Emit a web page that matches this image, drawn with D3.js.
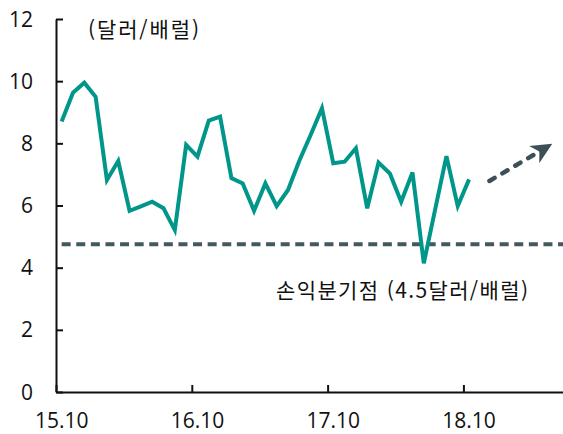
<!DOCTYPE html>
<html lang="ko">
<head>
<meta charset="utf-8">
<title>손익분기점 차트</title>
<script src="https://d3js.org/d3.v7.min.js"></script>
<style>
body { margin: 0; background: #fff; }
text { font-family: "Noto Sans CJK KR", "Noto Sans", sans-serif; fill: #111; }
text.num { font-family: "Open Sans", "Noto Sans", sans-serif; }
</style>
</head>
<body>
<div id="chart"></div>
<script>
// monthly values, 15.10 .. 18.10 (dollars / barrel)
var months = d3.range(0, 37);
var values = [8.70, 9.63, 9.95, 9.50, 6.82, 7.43, 5.83, 5.97, 6.12, 5.91,
              5.21, 7.95, 7.57, 8.73, 8.86, 6.88, 6.71, 5.83, 6.71, 5.98,
              6.50, 7.44, 8.27, 9.13, 7.36, 7.41, 7.84, 5.91, 7.38, 7.03,
              6.12, 7.06, 4.14, 5.87, 7.59, 5.98, 6.84];
var xTickMonths = [0, 12, 24, 36];
var xTickLabels = ["15.10", "16.10", "17.10", "18.10"];
var yTicks = [0, 2, 4, 6, 8, 10, 12];
var breakEven = 4.75;
var arrowPts = [[38.3, 6.79], [43.7, 7.95]];

var W = 563, H = 434;
var svg = d3.select("#chart").append("svg")
  .attr("width", W).attr("height", H);

var x = d3.scaleLinear().domain([0, 44.8]).range([56, 563]);
var y = d3.scaleLinear().domain([0, 12]).range([392, 19]);

// y axis, ticks pointing inward
var yAxis = svg.append("g")
  .attr("transform", "translate(" + x(0) + ",0)")
  .call(d3.axisLeft(y).tickValues(yTicks).tickSizeInner(-7).tickSizeOuter(0).tickFormat(""));
yAxis.selectAll("path, line").attr("stroke", "#111").attr("stroke-width", 2);

svg.selectAll(".ylab")
  .data(yTicks)
  .enter().append("text")
  .attr("class", "num")
  .attr("x", 33)
  .attr("y", function(d) { return y(d); })
  .attr("dy", "0.36em")
  .attr("text-anchor", "end")
  .style("font-size", "21px")
  .text(function(d) { return d; });

// x axis
var xAxis = svg.append("g")
  .attr("transform", "translate(0," + y(0) + ")")
  .call(d3.axisBottom(x).tickValues(xTickMonths).tickSizeInner(-7).tickSizeOuter(0).tickFormat(""));
xAxis.selectAll("path, line").attr("stroke", "#111").attr("stroke-width", 2);

svg.selectAll(".xlab")
  .data(xTickMonths)
  .enter().append("text")
  .attr("class", "num")
  .attr("x", function(d) { return x(d + 0.5); })
  .attr("y", 428)
  .attr("text-anchor", "middle")
  .style("font-size", "21px")
  .text(function(d, i) { return xTickLabels[i]; });

// break-even dashed line
svg.append("line")
  .attr("x1", x(0.5)).attr("x2", W)
  .attr("y1", y(breakEven)).attr("y2", y(breakEven))
  .attr("stroke", "#435860")
  .attr("stroke-width", 4)
  .attr("stroke-dasharray", "9,5.6");

// price line
var line = d3.line()
  .x(function(d) { return x(d + 0.5); })
  .y(function(d, i) { return y(values[i]); });

svg.append("path")
  .datum(months)
  .attr("d", line)
  .attr("fill", "none")
  .attr("stroke", "#00968a")
  .attr("stroke-width", 4)
  .attr("stroke-linejoin", "miter");

// arrow
svg.append("defs").append("marker")
  .attr("id", "head")
  .attr("markerUnits", "userSpaceOnUse")
  .attr("viewBox", "0 -10 21 20")
  .attr("refX", 19).attr("refY", 0)
  .attr("markerWidth", 21).attr("markerHeight", 20)
  .attr("orient", "auto")
  .append("path")
  .attr("d", "M0,-10L21,0L0,10L6,0Z")
  .attr("fill", "#3d4f57");

svg.append("path")
  .datum(arrowPts)
  .attr("d", d3.line().x(function(d) { return x(d[0]); }).y(function(d) { return y(d[1]); }))
  .attr("fill", "none")
  .attr("stroke", "#3d4f57")
  .attr("stroke-width", 4.5)
  .attr("stroke-linecap", "round")
  .attr("stroke-dasharray", "6,9")
  .attr("marker-end", "url(#head)");

// labels
svg.append("text")
  .attr("x", 88).attr("y", 30)
  .attr("dy", "0.35em")
  .attr("textLength", 111)
  .attr("lengthAdjust", "spacing")
  .style("font-size", "21px")
  .text("(달러/배럴)");

svg.append("text")
  .attr("x", 276).attr("y", 291)
  .attr("dy", "0.35em")
  .attr("textLength", 252)
  .attr("lengthAdjust", "spacing")
  .style("font-size", "21px")
  .text("손익분기점 (4.5달러/배럴)");
</script>
</body>
</html>
